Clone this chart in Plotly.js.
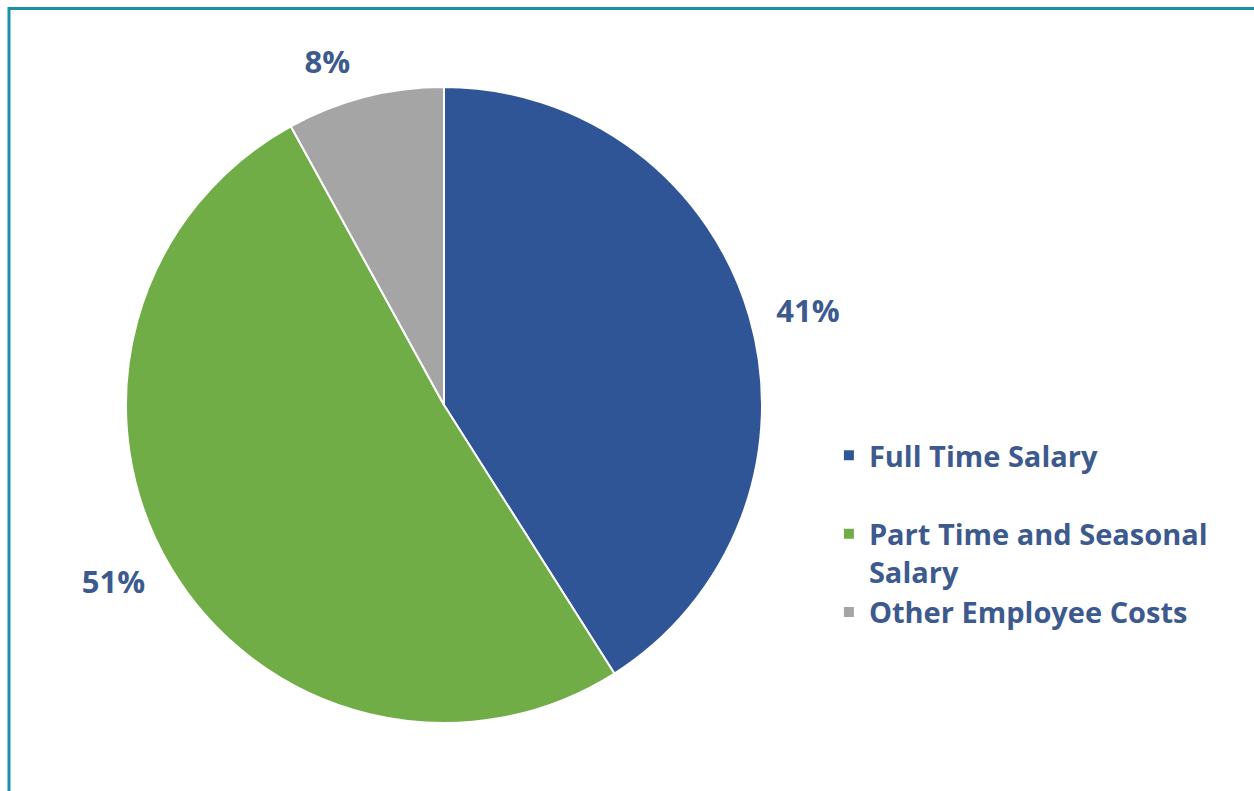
<!DOCTYPE html>
<html>
<head>
<meta charset="utf-8">
<script src="https://cdn.plot.ly/plotly-3.0.1.min.js"></script>
<style>
html,body{margin:0;padding:0;background:#fff;}
#chart{width:1254px;height:791px;}
</style>
</head>
<body>
<div id="chart"></div>
<script>
const categories = ["Full Time Salary", "Part Time and Seasonal Salary", "Other Employee Costs"];
const legendLabels = ["Full Time Salary<br> ", "Part Time and Seasonal<br>Salary", "Other Employee Costs"];
const shares = [41, 51, 8];
const sliceColors = ["#2f5597", "#70ad47", "#a5a5a5"];

const W = 1254, H = 791;
const cx = 444, cy = 405, R = 318, labelR = 335;
const textColor = "#3d5a8e";
const fontFam = "'Open Sans', Lato, sans-serif";

const pieTrace = {
  type: "pie",
  labels: legendLabels,
  values: shares,
  customdata: categories,
  sort: false,
  direction: "clockwise",
  rotation: 0,
  marker: {colors: sliceColors, line: {color: "#ffffff", width: 2}},
  textinfo: "none",
  hovertemplate: "%{customdata}: %{percent:.0%}<extra></extra>",
  domain: {x: [(cx - R) / W, (cx + R) / W], y: [(H - cy - R) / H, (H - cy + R) / H]}
};

// transparent companion pie carrying the percentage labels a little further out
const labelTrace = {
  type: "pie",
  labels: legendLabels,
  values: shares,
  sort: false,
  direction: "clockwise",
  rotation: 0,
  showlegend: false,
  hoverinfo: "skip",
  marker: {colors: ["rgba(0,0,0,0)", "rgba(0,0,0,0)", "rgba(0,0,0,0)"], line: {width: 0}},
  textposition: "outside",
  texttemplate: "%{percent:.0%}",
  textfont: {family: fontFam, size: 31, color: textColor, weight: "bold"},
  domain: {x: [(cx - labelR) / W, (cx + labelR) / W], y: [(H - cy - labelR) / H, (H - cy + labelR) / H]}
};

const layout = {
  width: W, height: H,
  margin: {l: 0, r: 0, t: 0, b: 0},
  paper_bgcolor: "#ffffff",
  showlegend: true,
  legend: {
    x: 0.661, y: 0.325, xanchor: "left", yanchor: "middle",
    font: {family: fontFam, size: 29, color: textColor, weight: "bold"},
    valign: "top"
  },
  shapes: [
    {type: "line", xref: "paper", yref: "paper", x0: 8 / W, x1: 1, y0: 1 - 8.5 / H, y1: 1 - 8.5 / H, line: {color: "#1a90aa", width: 3}},
    {type: "line", xref: "paper", yref: "paper", x0: 9 / W, x1: 9 / W, y0: 0, y1: 1 - 7 / H, line: {color: "#1a90aa", width: 3}}
  ]
};

Plotly.newPlot("chart", [pieTrace, labelTrace], layout, {displayModeBar: false, staticPlot: true});
</script>
</body>
</html>
